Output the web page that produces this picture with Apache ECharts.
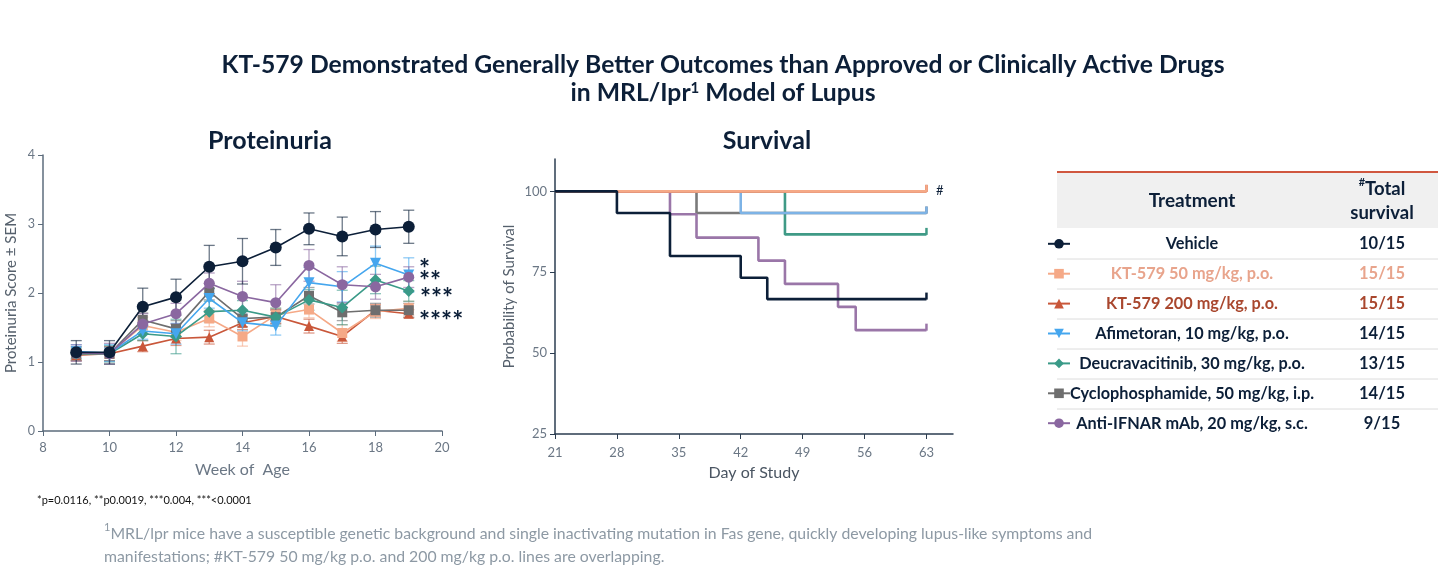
<!DOCTYPE html>
<html>
<head>
<meta charset="utf-8">
<script src="https://cdn.jsdelivr.net/npm/echarts@6/dist/echarts.min.js"></script>
<style>
  *{ margin:0px; padding:0px; }
  body{ background:#fff; }
  #main{ width:1450px; height:575px; }
</style>
</head>
<body>
<div id="main"></div>
<script type="text/javascript">
// proteinuria, week of age
var weeks = [9, 10, 11, 12, 13, 14, 15, 16, 17, 18, 19];

var names = ['Vehicle', 'KT-579 50 mg/kg, p.o.', 'KT-579 200 mg/kg, p.o.', 'Afimetoran, 10 mg/kg, p.o.',
             'Deucravacitinib, 30 mg/kg, p.o.', 'Cyclophosphamide, 50 mg/kg, i.p.', 'Anti-IFNAR mAb, 20 mg/kg, s.c.'];
var totalSurvival = ['10/15', '15/15', '15/15', '14/15', '13/15', '14/15', '9/15'];

var vehicle    = [1.14, 1.14, 1.80, 1.94, 2.38, 2.46, 2.66, 2.93, 2.82, 2.92, 2.96];
var kt50       = [1.12, 1.12, 1.53, 1.43, 1.63, 1.37, 1.68, 1.76, 1.42, 1.73, 1.78];
var kt200      = [1.10, 1.12, 1.23, 1.34, 1.36, 1.57, 1.66, 1.52, 1.37, 1.75, 1.70];
var afimetoran = [1.15, 1.13, 1.45, 1.41, 1.92, 1.57, 1.52, 2.15, 2.09, 2.43, 2.26];
var deucra     = [1.12, 1.12, 1.41, 1.37, 1.73, 1.75, 1.65, 1.90, 1.79, 2.19, 2.03];
var cyclo      = [1.12, 1.12, 1.61, 1.48, 2.02, 1.63, 1.65, 1.96, 1.72, 1.75, 1.75];
var antiIfnar  = [1.13, 1.12, 1.55, 1.70, 2.14, 1.95, 1.86, 2.40, 2.12, 2.09, 2.23];

var semVehicle    = [0.17, 0.17, 0.27, 0.26, 0.31, 0.33, 0.26, 0.23, 0.28, 0.26, 0.24];
var semKt50       = [0.10, 0.10, 0.12, 0.12, 0.12, 0.14, 0.10, 0.12, 0.12, 0.10, 0.10];
var semKt200      = [0.08, 0.10, 0.08, 0.10, 0.10, 0.10, 0.10, 0.10, 0.10, 0.08, 0.06];
var semAfimetoran = [0.10, 0.12, 0.12, 0.15, 0.14, 0.12, 0.13, 0.22, 0.22, 0.25, 0.25];
var semDeucra     = [0.08, 0.12, 0.10, 0.25, 0.15, 0.14, 0.13, 0.15, 0.25, 0.20, 0.15];
var semCyclo      = [0.10, 0.10, 0.10, 0.12, 0.12, 0.12, 0.10, 0.12, 0.12, 0.10, 0.10];
var semAntiIfnar  = [0.12, 0.15, 0.15, 0.15, 0.15, 0.22, 0.26, 0.23, 0.26, 0.18, 0.15];

// survival: [day, % surviving] step points
var survVehicle    = [[21, 100], [28, 93.3], [34, 80], [42, 73.3], [45, 66.7], [63, 66.7]];
var survKt50       = [[21, 100], [63, 100]];
var survKt200      = [[21, 100], [63, 100]];
var survAfimetoran = [[21, 100], [42, 93.3], [63, 93.3]];
var survDeucra     = [[21, 100], [47, 86.7], [63, 86.7]];
var survCyclo      = [[21, 100], [37, 93.3], [63, 93.3]];
var survAntiIfnar  = [[21, 100], [34, 92.9], [37, 85.7], [44, 78.6], [47, 71.4], [53, 64.3], [55, 57.1], [63, 57.1]];

var dayTicks = [21, 28, 35, 42, 49, 56, 63];
var survTicks = [25, 50, 75, 100];

var NAVY = '#0c1f38';
var colors = [NAVY, '#f5a987', '#c9573a', '#45a6ee', '#3a9a88', '#6e6e6e', '#8a67a0'];
var survColors = [NAVY, '#f5a987', '#c9573a', '#7db3e6', '#3f9a86', '#7a7a7a', '#9a76a8'];
var textColors = [NAVY, '#e8a48c', '#a9472e', NAVY, NAVY, NAVY, NAVY];
var symbols = ['circle', 'rect', 'triangle', 'path://M0,0 L10,0 L5,9 Z', 'diamond', 'rect', 'circle'];
var symbolSizes = [12, 10, 10, 11, 12, 10, 11];

var means = [vehicle, kt50, kt200, afimetoran, deucra, cyclo, antiIfnar];
var sems = [semVehicle, semKt50, semKt200, semAfimetoran, semDeucra, semCyclo, semAntiIfnar];
var surv = [survVehicle, survKt50, survKt200, survAfimetoran, survDeucra, survCyclo, survAntiIfnar];

var axisGray = '#6b7785';

function errorBars(color) {
  return function (params, api) {
    var x = api.value(0), v = api.value(1), e = api.value(2);
    var top = api.coord([x, v + e]);
    var bot = api.coord([x, v - e]);
    var st = { stroke: color, lineWidth: 1.3, opacity: 0.6 };
    return {
      type: 'group',
      children: [
        { type: 'line', shape: { x1: top[0], y1: top[1], x2: bot[0], y2: bot[1] }, style: st },
        { type: 'line', shape: { x1: top[0] - 5.5, y1: top[1], x2: top[0] + 5.5, y2: top[1] }, style: st },
        { type: 'line', shape: { x1: bot[0] - 5.5, y1: bot[1], x2: bot[0] + 5.5, y2: bot[1] }, style: st }
      ]
    };
  };
}

var series = [];
// draw order in proteinuria: vehicle on top
var protOrder = [2, 1, 5, 4, 3, 6, 0];
protOrder.forEach(function (i, k) {
  series.push({
    type: 'custom', xAxisIndex: 0, yAxisIndex: 0, z: 1,
    renderItem: errorBars(colors[i]),
    data: weeks.map(function (w, j) { return [w, means[i][j], sems[i][j]]; }),
    encode: { x: 0, y: 1 }, silent: true
  });
});
// legend reads the first series with a given name, so the proteinuria ones go first
for (var i = 0; i < names.length; i++) {
  series.push({
    name: names[i], type: 'line', xAxisIndex: 0, yAxisIndex: 0,
    z: 2 + protOrder.indexOf(i),
    symbol: symbols[i], symbolSize: symbolSizes[i],
    lineStyle: { width: 1.6, color: colors[i] },
    itemStyle: { color: colors[i] },
    data: weeks.map(function (w, j) { return [w, means[i][j]]; })
  });
}
var survOrder = [4, 5, 3, 6, 2, 1, 0];
survOrder.forEach(function (i, k) {
  var d = surv[i].map(function (p, j) {
    if (j === surv[i].length - 1) {
      return { value: p, symbol: 'rect', symbolSize: [2.5, 7], symbolOffset: [0, -3] };
    }
    return { value: p, symbol: 'none' };
  });
  series.push({
    name: names[i], type: 'line', xAxisIndex: 1, yAxisIndex: 1, z: 2 + k,
    step: 'end', showSymbol: true, symbol: 'none',
    lineStyle: { width: 2.6, color: survColors[i] },
    itemStyle: { color: survColors[i] },
    data: d
  });
});

// legend table on the right
var tblLeft = 1057, tblRight = 1438, rowTop = 244, rowStep = 30;
var graphics = [
  { type: 'rect', shape: { x: tblLeft, y: 172, width: tblRight - tblLeft, height: 56 }, style: { fill: '#f0f0f0' } },
  { type: 'line', shape: { x1: tblLeft, y1: 172, x2: tblRight, y2: 172 }, style: { stroke: '#d0573f', lineWidth: 2 } },
  { type: 'text', x: 1192, y: 201, style: { text: 'Treatment', font: 'bold 19px Lato', fill: NAVY, align: 'center', verticalAlign: 'middle' } },
  { type: 'text', x: 1382, y: 201, style: {
      text: '{s|#}{b|Total}\n{b|survival}', align: 'center', verticalAlign: 'middle', lineHeight: 24,
      rich: { b: { font: 'bold 18.5px Lato', fill: NAVY, lineHeight: 24 }, s: { font: 'bold 11px Lato', fill: NAVY, verticalAlign: 'top', lineHeight: 24 } } } },
  // titles
  { type: 'text', x: 723, y: 65, style: { text: 'KT-579 Demonstrated Generally Better Outcomes than Approved or Clinically Active Drugs', font: 'bold 24.7px Lato', fill: NAVY, align: 'center', verticalAlign: 'middle' } },
  { type: 'text', x: 723, y: 93, style: {
      text: '{t|in MRL/Ipr}{s|1}{t| Model of Lupus}', align: 'center', verticalAlign: 'middle',
      rich: { t: { font: 'bold 24.7px Lato', fill: NAVY }, s: { font: 'bold 15px Lato', fill: NAVY, verticalAlign: 'top', padding: [0, 0, 8, 0] } } } },
  { type: 'text', x: 270, y: 141, style: { text: 'Proteinuria', font: 'bold 25px Lato', fill: NAVY, align: 'center', verticalAlign: 'middle' } },
  { type: 'text', x: 767, y: 141, style: { text: 'Survival', font: 'bold 25px Lato', fill: NAVY, align: 'center', verticalAlign: 'middle' } },
  // significance marks
  { type: 'text', x: 419, y: 270, style: { text: '*', font: 'bold 26px Lato', fill: NAVY, verticalAlign: 'middle' } },
  { type: 'text', x: 419, y: 282, style: { text: '**', font: 'bold 26px Lato', fill: NAVY, verticalAlign: 'middle' } },
  { type: 'text', x: 420, y: 299, style: { text: '***', font: 'bold 26px Lato', fill: NAVY, verticalAlign: 'middle' } },
  { type: 'text', x: 419, y: 322, style: { text: '****', font: 'bold 26px Lato', fill: NAVY, verticalAlign: 'middle' } },
  { type: 'text', x: 936, y: 191, style: { text: '#', font: '13px Lato', fill: NAVY, verticalAlign: 'middle' } },
  // footnotes
  { type: 'text', x: 37, y: 500, style: { text: '*p=0.0116, **p0.0019, ***0.004, ***<0.0001', font: '11px Lato', fill: '#111', verticalAlign: 'middle' } },
  { type: 'text', x: 104, y: 545, style: {
      text: '{s|1}{t|MRL/lpr mice have a susceptible genetic background and single inactivating mutation in Fas gene, quickly developing lupus-like symptoms and}\n{t|manifestations; #KT-579 50 mg/kg p.o. and 200 mg/kg p.o. lines are overlapping.}',
      verticalAlign: 'middle', lineHeight: 23,
      rich: { t: { font: '15.8px Lato', fill: '#8d99a4', lineHeight: 23 }, s: { font: '11px Lato', fill: '#8d99a4', verticalAlign: 'top', lineHeight: 23 } } } }
];
for (var r = 0; r < names.length; r++) {
  var yy = rowTop + r * rowStep;
  graphics.push({ type: 'text', x: 1192, y: yy, style: { text: names[r], font: 'bold 16.3px Lato', fill: textColors[r], align: 'center', verticalAlign: 'middle' } });
  graphics.push({ type: 'text', x: 1382, y: yy, style: { text: totalSurvival[r], font: 'bold 16.5px Lato', fill: textColors[r], align: 'center', verticalAlign: 'middle' } });
  if (r < names.length - 1) {
    graphics.push({ type: 'line', shape: { x1: tblLeft, y1: yy + 15, x2: tblRight, y2: yy + 15 }, style: { stroke: '#dcdcdc', lineWidth: 1 } });
  }
}

var myChart = echarts.init(document.getElementById('main'));
myChart.setOption({
  animation: false,
  textStyle: { fontFamily: 'Lato' },
  grid: [
    { left: 43, right: 1008, top: 155, bottom: 144, containLabel: false },
    { left: 555, right: 497, top: 159, bottom: 141, containLabel: false }
  ],
  legend: {
    orient: 'vertical', left: 1047, top: 239, padding: 0, itemWidth: 22, itemHeight: 12, itemGap: 20.3,
    selectedMode: false, data: names,
    formatter: function () { return ''; },
    textStyle: { fontSize: 10, lineHeight: 12 }
  },
  xAxis: [
    {
      type: 'value', gridIndex: 0, min: 8, max: 20, interval: 2,
      name: 'Week of  Age', nameLocation: 'middle', nameGap: 31,
      nameTextStyle: { fontSize: 16, color: axisGray },
      axisLine: { lineStyle: { color: '#5c6c7c', width: 1.5 } },
      axisTick: { lineStyle: { color: '#5c6c7c' }, length: 5 },
      axisLabel: { color: axisGray, fontSize: 13, margin: 10 },
      splitLine: { show: false }
    },
    {
      type: 'value', gridIndex: 1, min: 21, max: 66, interval: 7,
      name: 'Day of Study', nameLocation: 'middle', nameGap: 31,
      nameTextStyle: { fontSize: 16, color: '#4a5562' },
      axisLine: { lineStyle: { color: '#2b3c50', width: 1.5 } },
      axisTick: { lineStyle: { color: '#2b3c50' }, length: 5, customValues: dayTicks },
      axisLabel: { color: axisGray, fontSize: 13, margin: 12, customValues: dayTicks },
      splitLine: { show: false }
    }
  ],
  yAxis: [
    {
      type: 'value', gridIndex: 0, min: 0, max: 4, interval: 1,
      name: 'Proteinuria Score \u00b1 SEM', nameLocation: 'middle', nameGap: 24,
      nameTextStyle: { fontSize: 15, color: '#55606c' },
      axisLine: { show: true, lineStyle: { color: '#5c6c7c', width: 1.5 } },
      axisTick: { show: true, lineStyle: { color: '#5c6c7c' }, length: 5 },
      axisLabel: { color: axisGray, fontSize: 12.5, margin: 8 },
      splitLine: { show: false }
    },
    {
      type: 'value', gridIndex: 1, min: 25, max: 110, interval: 25,
      name: 'Probability of Survival', nameLocation: 'middle', nameGap: 38,
      nameTextStyle: { fontSize: 15, color: '#55606c' },
      axisLine: { show: true, lineStyle: { color: '#2b3c50', width: 1.5 } },
      axisTick: { show: true, lineStyle: { color: '#2b3c50' }, length: 5, customValues: survTicks },
      axisLabel: { color: axisGray, fontSize: 13, margin: 8, customValues: survTicks },
      splitLine: { show: false }
    }
  ],
  graphic: graphics,
  series: series
});
</script>
</body>
</html>
